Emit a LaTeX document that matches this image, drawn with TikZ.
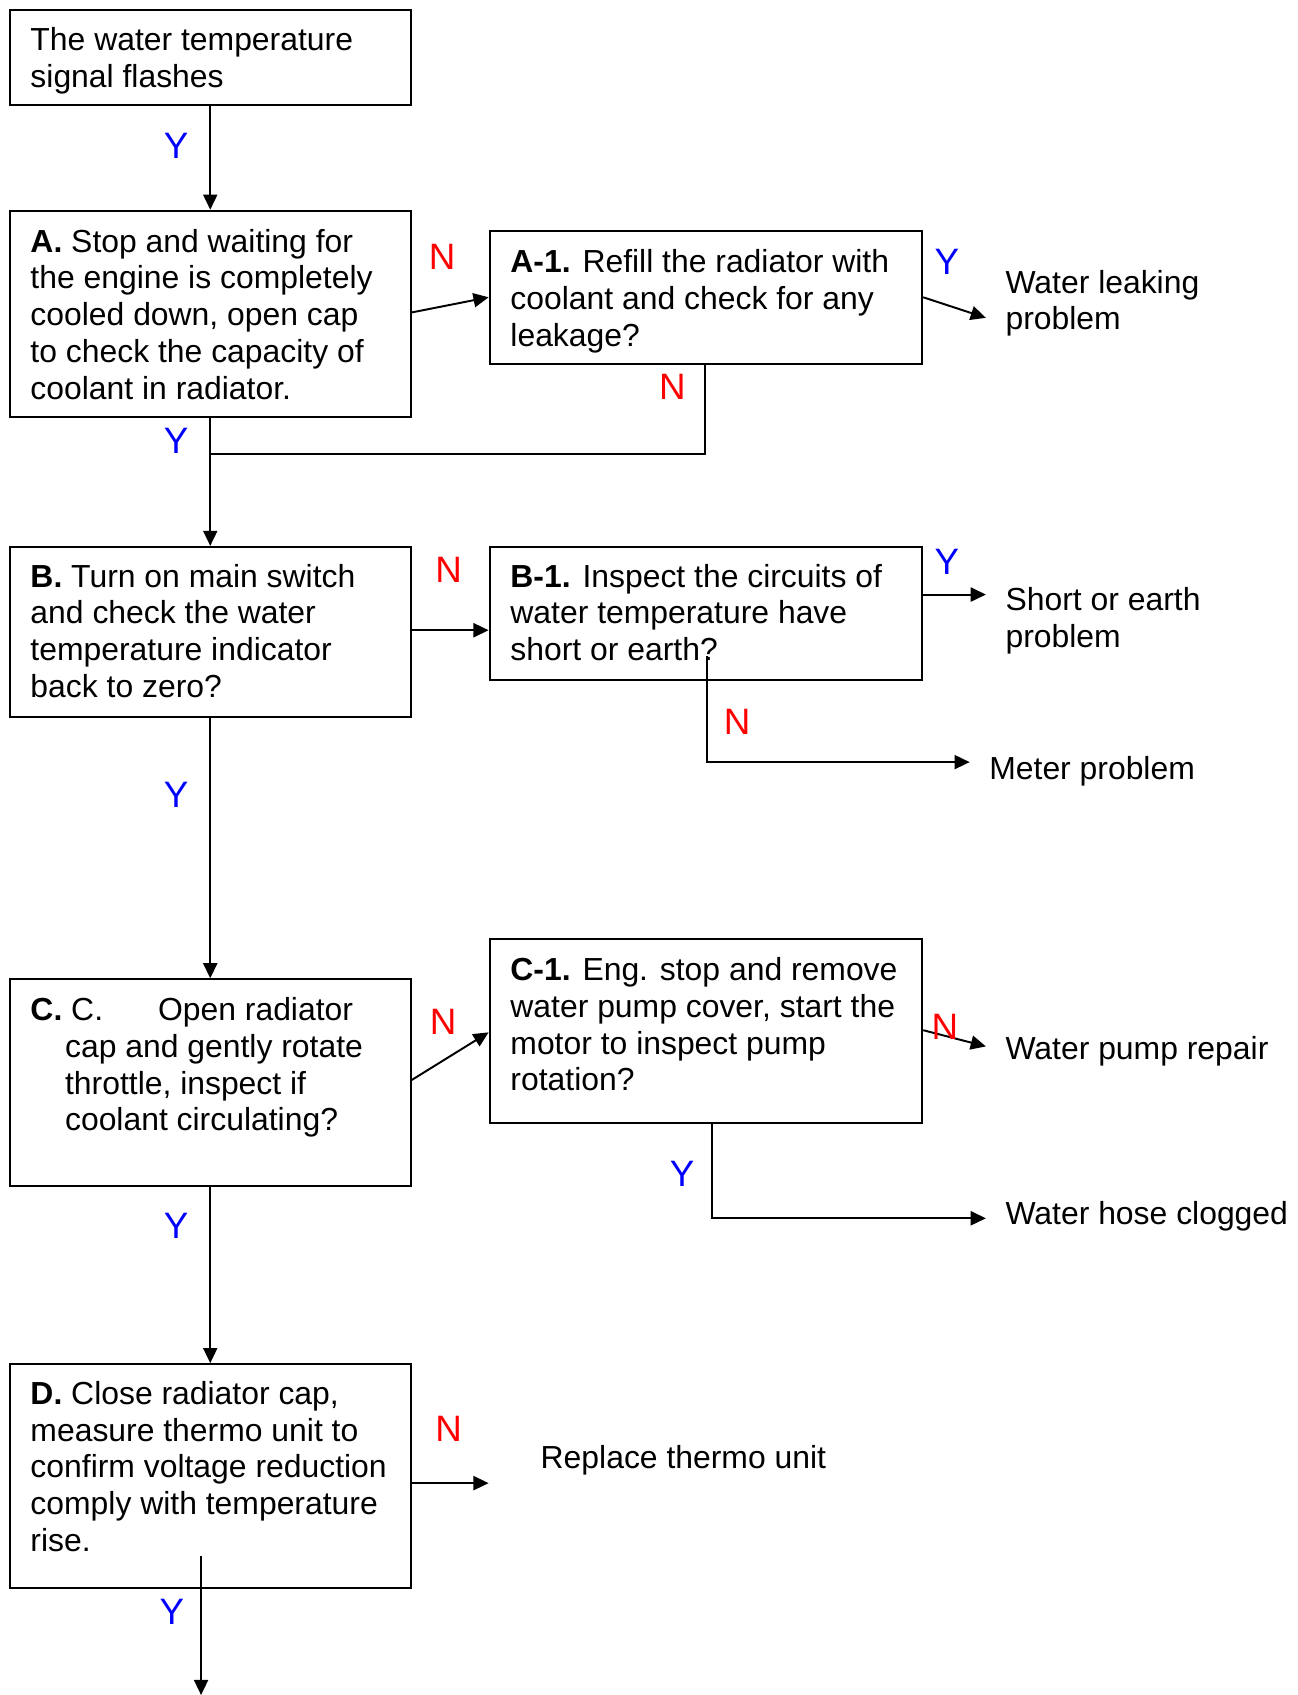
\documentclass[tikz,border=0pt]{standalone}
\usepackage{fontspec}
\setmainfont{Liberation Sans}
\usetikzlibrary{arrows.meta,calc}
\begin{document}
\begin{tikzpicture}[x=1pt,y=-1pt,
  box/.style={draw, line width=2pt, inner sep=0pt, anchor=north west},
  txt/.style={font=\fontsize{29.5}{34}\selectfont, align=left, inner sep=0pt, anchor=north west},
  ylab/.style={text=blue, font=\fontsize{34}{34}\selectfont, inner sep=0pt},
  nlab/.style={text=red, font=\fontsize{34}{34}\selectfont, inner sep=0pt},
  ln/.style={line width=1.8pt},
  arr/.style={line width=1.8pt, -{Triangle[length=14pt,width=13pt]}}
]
\newcommand{\fl}{\rule{0pt}{24pt}}
\fill[white] (0,0) rectangle (1200,1568);
\useasboundingbox (0,0) rectangle (1200,1568);

% boxes
\node[box, minimum width=371pt, minimum height=88.5pt] (T) at (8,8) {};
\node[box, minimum width=371pt, minimum height=191pt] (A) at (8,194) {};
\node[box, minimum width=400pt, minimum height=123pt] (A1) at (452,213) {};
\node[box, minimum width=371pt, minimum height=157pt] (B) at (8,505) {};
\node[box, minimum width=400pt, minimum height=123pt] (B1) at (452,505) {};
\node[box, minimum width=371pt, minimum height=191pt] (C) at (8,905) {};
\node[box, minimum width=400pt, minimum height=170pt] (C1) at (452,868) {};
\node[box, minimum width=371pt, minimum height=207pt] (D) at (8,1261) {};

% box texts
\node[txt] (Tt) at (28,22.5) {\fl The water temperature\\signal flashes};
\node[txt] (At) at (28,209) {\fl\textbf{A.} Stop and waiting for\\the engine is completely\\cooled down, open cap\\to check the capacity of\\coolant in radiator.};
\node[txt] (A1t) at (472,228) {\fl\textbf{A-1.} Refill the radiator with\\coolant and check for any\\leakage?};
\node[txt] (Bt) at (28,519) {\fl\textbf{B.} Turn on main switch\\and check the water\\temperature indicator\\back to zero?};
\node[txt] (B1t) at (472,519) {\fl\textbf{B-1.} Inspect the circuits of\\water temperature have\\short or earth?};
\node[txt] (Ct) at (28,920) {\fl\makebox[118pt][l]{\textbf{C.} C.}Open radiator\\\hspace*{32pt}cap and gently rotate\\\hspace*{32pt}throttle, inspect if\\\hspace*{32pt}coolant circulating?};
\node[txt] (C1t) at (472,883) {\fl\textbf{C-1.} Eng. stop and remove\\water pump cover, start the\\motor to inspect pump\\rotation?};
\node[txt] (Dt) at (28,1275) {\fl\textbf{D.} Close radiator cap,\\measure thermo unit to\\confirm voltage reduction\\comply with temperature\\rise.};

% outcome texts
\node[txt] (WL) at (930,247) {\fl Water leaking\\problem};
\node[txt] (SE) at (930,541) {\fl Short or earth\\problem};
\node[txt] (MP) at (915,697) {\fl Meter problem};
\node[txt] (WP) at (930,956) {\fl Water pump repair};
\node[txt] (WH) at (930,1109) {\fl Water hose clogged};
\node[txt] (RT) at (500,1334) {\fl Replace thermo unit};

% free-end coordinates
\coordinate (wlend) at (912,294);
\coordinate (seend) at (912,550);
\coordinate (mpstart) at (654,607);
\coordinate (mpcorner) at (654,705);
\coordinate (mpend) at (897,705);
\coordinate (wpend) at (912,968);
\coordinate (whcorner) at (659,1127);
\coordinate (whend) at (912,1127);
\coordinate (a1corner) at (652,420);
\coordinate (a1join) at (193,420);
\coordinate (rtend) at (452,1372);
\coordinate (dstart) at (186,1439);
\coordinate (dend) at (186,1568);

% connectors
\draw[arr] (T.south) -- (A.north);
\draw[arr] (A.east |- 0,289) -- (A1.west |- 0,275);
\draw[arr] (A1.east |- 0,275) -- (wlend);
\draw[ln] (A1.south -| a1corner) -- (a1corner) -- (a1join);
\draw[arr] (A.south) -- (B.north);
\draw[arr] (B.east |- 0,583) -- (B1.west |- 0,583);
\draw[arr] (B1.east |- seend) -- (seend);
\draw[arr] (mpstart) -- (mpcorner) -- (mpend);
\draw[arr] (B.south) -- (C.north);
\draw[arr] (C.east |- 0,999) -- (C1.west |- 0,955);
\draw[arr] (C1.east |- 0,953) -- (wpend);
\draw[arr] (C1.south -| whcorner) -- (whcorner) -- (whend);
\draw[arr] (C.south) -- (D.north);
\draw[arr] (D.east |- rtend) -- (rtend);
\draw[arr] (dstart) -- (dend);

% Y / N labels
\node[ylab] (y1) at (163,135) {Y};
\node[nlab] (n1) at (409,238) {N};
\node[ylab] (y2) at (876,242) {Y};
\node[nlab] (n2) at (622,358) {N};
\node[ylab] (y3) at (163,408) {Y};
\node[nlab] (n3) at (415,527) {N};
\node[ylab] (y4) at (876,520) {Y};
\node[nlab] (n4) at (682,668) {N};
\node[ylab] (y5) at (163,735) {Y};
\node[nlab] (n5) at (410,945) {N};
\node[nlab] (n6) at (874,950) {N};
\node[ylab] (y6) at (631,1086) {Y};
\node[ylab] (y7) at (163,1134) {Y};
\node[nlab] (n7) at (415,1322) {N};
\node[ylab] (y8) at (159,1491) {Y};
\end{tikzpicture}
\end{document}
